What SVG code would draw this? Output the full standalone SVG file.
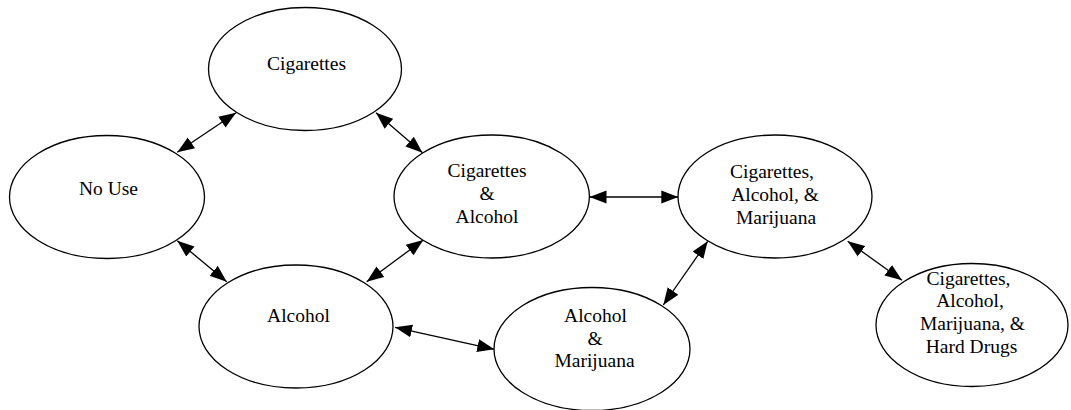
<svg xmlns="http://www.w3.org/2000/svg" width="1071" height="410" viewBox="0 0 1071 410">
<style>
.n ellipse{fill:#fff;stroke:#000;stroke-width:1.3}
.n text{font-family:'Liberation Serif','DejaVu Serif',serif;font-size:19.5px;fill:#000;text-anchor:middle}
.e line{stroke:#000;stroke-width:1.3}
</style>
<defs>
<marker id="ah" markerUnits="userSpaceOnUse" markerWidth="18" markerHeight="14" refX="17" refY="6.5" orient="auto-start-reverse" viewBox="0 0 18 13">
<path d="M0,0 L17,6.5 L0,13 z" fill="#000"/>
</marker>
</defs>
<rect width="1071" height="410" fill="#fff"/>
<g id="connectors" class="e">
<line x1="177.3" y1="152.3" x2="236" y2="112.7" marker-start="url(#ah)" marker-end="url(#ah)"/>
<line x1="177.3" y1="240.7" x2="226.7" y2="281.7" marker-start="url(#ah)" marker-end="url(#ah)"/>
<line x1="376" y1="112.7" x2="422.5" y2="152.8" marker-start="url(#ah)" marker-end="url(#ah)"/>
<line x1="366.7" y1="281.7" x2="423.3" y2="240" marker-start="url(#ah)" marker-end="url(#ah)"/>
<line x1="589.5" y1="197" x2="678.3" y2="197" marker-start="url(#ah)" marker-end="url(#ah)"/>
<line x1="395" y1="327.3" x2="494.3" y2="349.3" marker-start="url(#ah)" marker-end="url(#ah)"/>
<line x1="663.3" y1="305" x2="707.7" y2="241.3" marker-start="url(#ah)" marker-end="url(#ah)"/>
<line x1="847.7" y1="241.3" x2="902" y2="280.2" marker-start="url(#ah)" marker-end="url(#ah)"/>
</g>
<g id="cigarettes" class="n">
<ellipse cx="305" cy="69" rx="96.5" ry="61.5"/>
<text x="306.5" y="70">Cigarettes</text>
</g>
<g id="no-use" class="n">
<ellipse cx="107" cy="197" rx="97.5" ry="61.5"/>
<text x="108.5" y="195">No Use</text>
</g>
<g id="alcohol" class="n">
<ellipse cx="296" cy="326.5" rx="97" ry="61.5"/>
<text x="298.5" y="321.5">Alcohol</text>
</g>
<g id="cig-alc" class="n">
<ellipse cx="491.7" cy="196.5" rx="97.7" ry="61.5"/>
<text x="487" y="176.5">Cigarettes</text>
<text x="487" y="199.5">&amp;</text>
<text x="487" y="222.5">Alcohol</text>
</g>
<g id="cig-alc-mar" class="n">
<ellipse cx="775" cy="196.5" rx="97" ry="61.5"/>
<text x="772" y="177.5">Cigarettes,</text>
<text x="775" y="200.5">Alcohol, &amp;</text>
<text x="776" y="223.5">Marijuana</text>
</g>
<g id="alc-mar" class="n">
<ellipse cx="592" cy="349" rx="98" ry="61.5"/>
<text x="595.5" y="322">Alcohol</text>
<text x="595" y="344.5">&amp;</text>
<text x="594.5" y="367.3">Marijuana</text>
</g>
<g id="cig-alc-mar-hard" class="n">
<ellipse cx="972" cy="325" rx="96" ry="61.5"/>
<text x="968.5" y="284.7">Cigarettes,</text>
<text x="970" y="307.2">Alcohol,</text>
<text x="972.5" y="329.8">Marijuana, &amp;</text>
<text x="971.5" y="352.6">Hard Drugs</text>
</g>
</svg>
